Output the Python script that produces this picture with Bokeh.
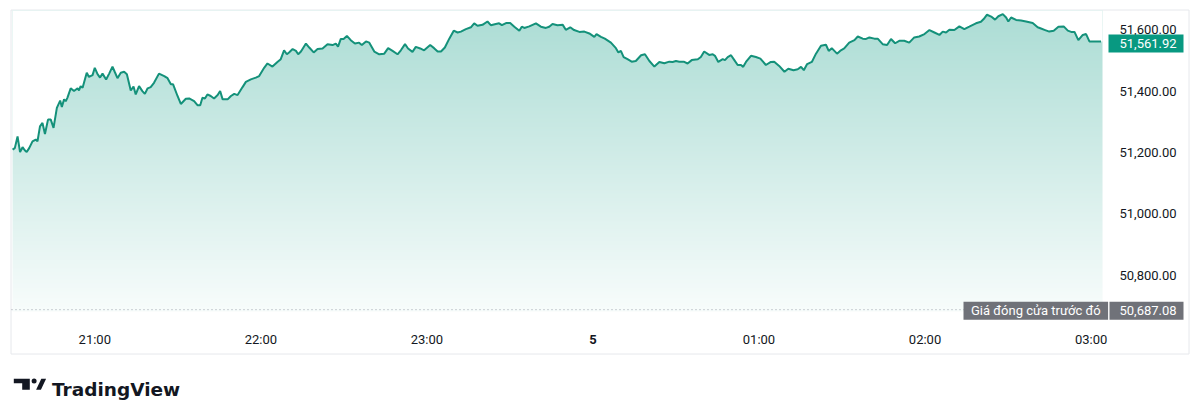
import numpy as np
from bokeh.plotting import figure
from bokeh.models import Range1d, ColumnDataSource
from bokeh.embed import file_html
from bokeh.resources import INLINE
from bokeh.core.properties import value

# ---- data: minutes since 20:30 and index level ----
minutes = [
    0.3, 1.1, 2.1, 3.0, 3.9, 4.7, 5.4, 6.3, 7.5, 8.7,
    9.3, 10.2, 11.1, 12.0, 13.1, 14.1, 15.1, 16.3, 17.5, 18.1,
    18.9, 19.5, 20.1, 21.3, 22.5, 23.8, 24.3, 24.9, 25.6, 27.1,
    27.9, 29.2, 30.0, 31.0, 31.9, 32.8, 34.1, 35.2, 36.4, 37.2,
    38.2, 39.4, 40.6, 41.6, 43.0, 44.0, 44.8, 46.0, 47.2, 48.1,
    49.1, 50.2, 51.4, 53.2, 55.1, 56.3, 57.5, 58.3, 59.9, 61.1,
    62.9, 64.1, 65.9, 67.1, 68.1, 68.9, 69.8, 70.7, 71.9, 73.1,
    74.4, 75.3, 76.2, 78.0, 79.2, 80.4, 81.6, 83.4, 84.6, 86.4,
    88.2, 89.4, 91.2, 92.4, 94.2, 96.0, 97.2, 98.4, 99.4, 100.2,
    101.5, 102.7, 103.5, 104.5,
    106.3, 107.5, 109.1, 110.5, 112.3, 114.1, 115.9, 117.1, 117.9, 118.9,
    119.9, 121.1, 122.5, 124.0, 125.5, 126.5, 128.0, 129.2, 131.0, 132.8,
    134.6, 136.0, 137.6, 139.4, 140.6, 142.1, 143.2, 144.8, 146.0, 147.6,
    149.0, 151.2, 152.6, 153.9, 155.1, 156.5, 158.1, 159.7, 161.1, 162.3,
    164.1, 165.9, 167.1, 168.3, 170.1, 171.9, 173.1, 174.9, 176.1, 177.1,
    178.6, 180.1, 181.6, 183.4, 184.3, 185.2, 187.0, 189.4, 191.2, 193.0,
    194.2, 195.4, 197.2, 199.1, 200.2, 201.8, 203.2, 205.1, 206.9, 208.7,
    210.5, 211.3, 212.9, 214.3, 216.5, 218.3, 219.2, 220.1, 221.1, 222.5,
    224.0, 225.5, 227.4, 228.8, 230.4, 232.2, 234.0, 235.8, 237.6, 238.8,
    240.0, 241.2, 242.8, 244.2, 245.7, 247.9, 249.0,
    250.2, 252.0, 253.3, 254.1, 255.3, 256.9, 257.7, 258.7, 259.9, 261.1,
    262.3, 263.5, 264.3, 265.3, 267.1, 268.9, 270.5, 272.5, 274.3, 275.5,
    277.3, 279.2, 280.6, 282.5, 284.0, 285.2, 286.2, 287.4, 289.1, 290.6,
    292.4, 294.2, 295.2, 296.3, 298.2, 299.6, 300.8, 302.6, 304.5, 305.7,
    307.5, 308.7, 309.9, 311.7, 312.9, 314.7, 316.3, 317.7, 319.2, 320.7,
    322.5, 324.3, 326.1, 327.9, 329.8, 331.6, 333.4, 335.2, 336.4, 337.6,
    338.8, 340.6, 342.4, 344.2, 346.0, 348.4, 350.2, 351.2, 352.4, 353.9,
    355.3, 356.5, 358.1, 359.3, 360.1, 361.1, 362.9, 364.7, 366.5, 368.9,
    370.7, 371.9, 373.4, 374.9, 376.5, 378.2, 380.1, 381.6, 382.8, 384.0,
    385.4, 387.0, 388.2, 389.4, 393.6,
]
prices = [
    51209, 51214, 51252, 51201, 51217, 51207, 51201, 51214, 51236, 51242,
    51236, 51285, 51296, 51260, 51307, 51307, 51280, 51345, 51369, 51348,
    51373, 51367, 51378, 51409, 51400, 51409, 51402, 51416, 51411, 51460,
    51446, 51452, 51476, 51455, 51444, 51457, 51438, 51457, 51480, 51463,
    51442, 51460, 51463, 51455, 51402, 51415, 51389, 51416, 51400, 51391,
    51409, 51413, 51427, 51457, 51449, 51442, 51422, 51422, 51384, 51358,
    51375, 51376, 51367, 51354, 51354, 51378, 51376, 51389, 51384, 51376,
    51387, 51400, 51373, 51373, 51384, 51391, 51387, 51413, 51430, 51438,
    51444, 51449, 51476, 51490, 51480, 51495, 51504, 51533, 51520, 51526,
    51537, 51531, 51520, 51529,
    51555, 51542, 51526, 51537, 51539, 51553, 51550, 51555, 51545, 51570,
    51570, 51580, 51566, 51555, 51558, 51550, 51562, 51558, 51529, 51520,
    51522, 51540, 51531, 51520, 51533, 51553, 51539, 51528, 51544, 51539,
    51533, 51550, 51540, 51529, 51529, 51542, 51571, 51597, 51591, 51594,
    51602, 51608, 51621, 51613, 51616, 51627, 51615, 51619, 51621, 51615,
    51622, 51622, 51610, 51597, 51610, 51606, 51611, 51621, 51610, 51606,
    51610, 51619, 51615, 51616, 51600, 51608, 51599, 51593, 51594, 51588,
    51577, 51586, 51577, 51571, 51558, 51540, 51526, 51531, 51511, 51504,
    51496, 51498, 51517, 51520, 51498, 51480, 51495, 51491, 51496, 51495,
    51498, 51496, 51496, 51490, 51501, 51504, 51511,
    51529, 51518, 51520, 51515, 51495, 51504, 51501, 51511, 51517, 51501,
    51485, 51485, 51479, 51495, 51515, 51511, 51506, 51485, 51495, 51496,
    51482, 51463, 51473, 51468, 51471, 51479, 51468, 51488, 51495, 51522,
    51548, 51551, 51531, 51540, 51522, 51533, 51539, 51558, 51566, 51578,
    51571, 51570, 51575, 51571, 51571, 51553, 51550, 51570, 51556, 51564,
    51564, 51558, 51575, 51578, 51586, 51599, 51591, 51583, 51594, 51591,
    51600, 51599, 51611, 51602, 51610, 51621, 51626, 51635, 51649, 51643,
    51633, 51644, 51651, 51640, 51627, 51640, 51632, 51630, 51627, 51622,
    51608, 51604, 51599, 51594, 51597, 51610, 51611, 51597, 51593, 51593,
    51566, 51583, 51586, 51562, 51561.92,
]
assert len(minutes) == len(prices)

x_ticks = [30, 90, 150, 210, 270, 330, 390]
x_tick_labels = ["21:00", "22:00", "23:00", "5", "01:00", "02:00", "03:00"]
x_tick_bold = [False, False, False, True, False, False, False]
y_ticks = [50800, 51000, 51200, 51400, 51600]
last_price = 51561.92
prev_close = 50687.08
prev_close_label = "Giá đóng cửa trước đó"
brand = "TradingView"

# ---- layout / style constants (pixels of the 1200x400 canvas) ----
W, H = 1200, 400
FONT = "Roboto"
GREEN = "#089981"
LINE = "#14917a"
TXT = "#131722"
GRAY = "#707279"

X_ORIGIN_PX, PX_PER_MIN = 11.25, 2.7675       # page x of 20:30, px per minute
Y_REF_VAL, Y_REF_PX, PX_PER_UNIT = 51600, 29.26, 0.3066
XS = -X_ORIGIN_PX / PX_PER_MIN
XE = (W - X_ORIGIN_PX) / PX_PER_MIN
YE = Y_REF_VAL + Y_REF_PX / PX_PER_UNIT
YS = Y_REF_VAL - (H - Y_REF_PX) / PX_PER_UNIT

def val_at(py):
    return Y_REF_VAL - (py - Y_REF_PX) / PX_PER_UNIT

def min_at(px):
    return (px - X_ORIGIN_PX) / PX_PER_MIN

PANE_TOP, PANE_BOT = val_at(10), val_at(311)

p = figure(width=W, height=H, x_range=Range1d(XS, XE), y_range=Range1d(YS, YE),
           extra_x_ranges={"px": Range1d(0, W)}, extra_y_ranges={"px": Range1d(H, 0)},
           output_backend="svg", toolbar_location=None, min_border=0,
           x_axis_location=None, y_axis_location=None,
           background_fill_color="white", border_fill_color="white")
p.outline_line_color = None
for g in p.grid:
    g.visible = False

# outer frame of the widget
p.quad(left=10.5, right=1188.5, top=9.5, bottom=353.5, x_range_name="px", y_range_name="px",
       fill_color=None, line_color="#e6e8ec", line_width=1)

# gradient fill under the line: vertical gradient image, masked white above the line
nrows = 301
a = np.linspace(0.03, 0.34, nrows)
r = np.round(255 - a * (255 - 8)).astype(np.uint32)
gch = np.round(255 - a * (255 - 153)).astype(np.uint32)
b = np.round(255 - a * (255 - 129)).astype(np.uint32)
img = (r | (gch << 8) | (b << 16) | (np.uint32(255) << 24)).reshape(nrows, 1)
x_first = minutes[0]
x_fill_end = max(minutes[-1], min_at(1102))
p.image_rgba(image=[img], x=x_first, y=PANE_BOT, dw=x_fill_end - x_first, dh=PANE_TOP - PANE_BOT)

mask_x = minutes + [x_fill_end]
mask_y = prices + [prices[-1]]
src = ColumnDataSource(dict(x=minutes, y=prices))
msrc = ColumnDataSource(dict(x=mask_x, y=mask_y, top=[PANE_TOP] * len(mask_x)))
p.varea(x="x", y1="y", y2="top", source=msrc, fill_color="white", fill_alpha=1.0)
p.line(x="x", y="y", source=src, line_color=LINE, line_width=2)

# previous close dotted line
p.segment(x0=[11], x1=[1102], y0=[prev_close], y1=[prev_close], x_range_name="px",
          line_color="#9ea3ab", line_width=1, line_dash="1 3")

# price scale tick labels
p.text(x=[1119] * len(y_ticks), y=y_ticks, text=[f"{t:,.2f}" for t in y_ticks],
       x_range_name="px", text_align="left", text_baseline="middle",
       text_font=value(FONT), text_font_size="13px", text_color=TXT)

# time scale tick labels
tsrc = ColumnDataSource(dict(x=x_ticks, y=[339] * len(x_ticks), t=x_tick_labels,
                             st=["bold" if bb else "normal" for bb in x_tick_bold]))
p.text(x="x", y="y", text="t", source=tsrc, y_range_name="px",
       text_align="center", text_baseline="middle", text_font=value(FONT),
       text_font_size="13px", text_font_style="st", text_color=TXT)

# last price badge
shift = 2 / PX_PER_UNIT
p.rect(x=[1145.5], y=[last_price - shift], width=75, height=18, height_units="screen",
       x_range_name="px", fill_color=GREEN, line_color=None)
p.text(x=[1119], y=[last_price - shift], text=[f"{last_price:,.2f}"], x_range_name="px",
       text_align="left", text_baseline="middle", text_font=value(FONT),
       text_font_size="13px", text_color="white")

# previous close badges
shift2 = 1 / PX_PER_UNIT
p.rect(x=[1035.3, 1146.0], y=[prev_close - shift2] * 2, width=[144.6, 74], height=18,
       height_units="screen", x_range_name="px", fill_color=GRAY, line_color=None)
p.text(x=[1035.3], y=[prev_close - shift2], text=[prev_close_label], x_range_name="px",
       text_align="center", text_baseline="middle", text_font=value(FONT),
       text_font_size="13px", text_color="white")
p.text(x=[1119], y=[prev_close - shift2], text=[f"{prev_close:,.2f}"], x_range_name="px",
       text_align="left", text_baseline="middle", text_font=value(FONT),
       text_font_size="13px", text_color="white")

# brand logo below the widget
p.patches(xs=[[13.3, 29.3, 29.3, 21.7, 21.7, 13.3], [35.6, 40.4, 45.6, 40.8]],
          ys=[[378.3, 378.3, 389.3, 389.3, 382.8, 382.8], [389.3, 389.3, 378.3, 378.3]],
          x_range_name="px", y_range_name="px", fill_color="#131722", line_color=None)
p.scatter(x=[33.6], y=[380.6], size=5.0, marker="circle", x_range_name="px", y_range_name="px",
          fill_color="#131722", line_color=None)
p.text(x=[51.5], y=[389.3], text=[brand], x_range_name="px", y_range_name="px",
       text_font=value("DejaVu Sans"), text_font_style="bold", text_font_size="18.5px",
       text_color="#131722", text_align="left", text_baseline="alphabetic")

open("out.html", "w").write(file_html(p, INLINE))
